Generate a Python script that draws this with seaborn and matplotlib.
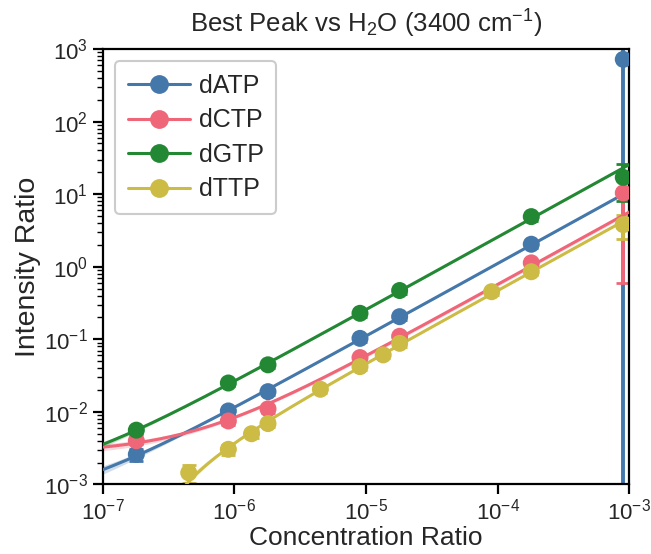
import numpy as np
import pandas as pd
import matplotlib
matplotlib.use("Agg")
import matplotlib.pyplot as plt
import seaborn as sns
from matplotlib.lines import Line2D
from matplotlib.ticker import LogLocator, NullLocator, NullFormatter

# ---------------- data ----------------
series = ["dATP", "dCTP", "dGTP", "dTTP"]
colors = ["#4477AA", "#EE6677", "#228833", "#CCBB44"]

datp_x = [1.8e-7, 9e-7, 1.8e-6, 9e-6, 1.8e-5, 1.8e-4, 9e-4]
datp_y = [2.6e-3, 1.03e-2, 1.9e-2, 0.103, 0.205, 2.04, 719.0]
datp_e = [0.5e-3, 1.0e-3, 2e-3, 0.01, 0.02, 0.2, 1500.0]

dctp_x = [1.8e-7, 9e-7, 1.8e-6, 9e-6, 1.8e-5, 1.8e-4, 9e-4]
dctp_y = [4.0e-3, 7.5e-3, 1.1e-2, 0.056, 0.11, 1.13, 10.4]
dctp_e = [0.4e-3, 0.8e-3, 1.2e-3, 6e-3, 0.012, 0.12, 9.8]

dgtp_x = [1.8e-7, 9e-7, 1.8e-6, 9e-6, 1.8e-5, 1.8e-4, 9e-4]
dgtp_y = [5.6e-3, 2.5e-2, 4.45e-2, 0.228, 0.47, 4.9, 17.0]
dgtp_e = [0.6e-3, 2.5e-3, 4.5e-3, 0.025, 0.05, 0.6, 9.0]

dttp_x = [4.5e-7, 9e-7, 1.35e-6, 1.8e-6, 4.5e-6, 9e-6, 1.35e-5, 1.8e-5, 9e-5, 1.8e-4, 9e-4]
dttp_y = [1.45e-3, 3.05e-3, 5.0e-3, 6.9e-3, 2.05e-2, 4.2e-2, 6.1e-2, 0.088, 0.453, 0.853, 3.8]
dttp_e = [0.4e-3, 0.5e-3, 0.6e-3, 0.8e-3, 2.2e-3, 4.5e-3, 6.5e-3, 9e-3, 0.05, 0.09, 1.4]

xs = [datp_x, dctp_x, dgtp_x, dttp_x]
ys = [datp_y, dctp_y, dgtp_y, dttp_y]
es = [datp_e, dctp_e, dgtp_e, dttp_e]

title = "Best Peak vs H$_2$O (3400 cm$^{-1}$)"
xlabel = "Concentration Ratio"
ylabel = "Intensity Ratio"

# ---------------- style ----------------
sns.set_style("ticks")
plt.rcParams["font.family"] = ["Liberation Sans", "DejaVu Sans"]
plt.rcParams["mathtext.fontset"] = "custom"
plt.rcParams["mathtext.rm"] = "Liberation Sans"
plt.rcParams["mathtext.it"] = "Liberation Sans:italic"
plt.rcParams["mathtext.bf"] = "Liberation Sans:bold"
plt.rcParams["mathtext.default"] = "regular"

fig = plt.figure(figsize=(6.51, 5.54), dpi=100)
ax = fig.add_axes([0.1578, 0.1255, 0.9667 - 0.1578, 0.9116 - 0.1255])
ax.set_xscale("log")
ax.set_yscale("log")

xx = np.logspace(-7, -3, 300)
rows = []
pts = []
for name, col, x, y, e in zip(series, colors, xs, ys, es):
    x = np.asarray(x, float)
    y = np.asarray(y, float)
    e = np.asarray(e, float)
    # weighted linear fit (y = a*x + b) in data space, covariance scaled by residuals
    p, cov = np.polyfit(x, y, 1, w=1.0 / e, cov=True)
    fit = np.polyval(p, xx)
    V = np.vstack([xx, np.ones_like(xx)]).T
    se = np.sqrt(np.einsum("ij,jk,ik->i", V, cov, V))
    ax.fill_between(xx, fit - se, fit + se, color=col, alpha=0.25, lw=0, zorder=1)
    for a, b in zip(xx, fit):
        rows.append({"series": name, "x": a, "y": b})
    ax.errorbar(x, y, yerr=e, fmt="none", ecolor=col, elinewidth=2.8, capsize=5, capthick=2, zorder=2)
    for a, b in zip(x, y):
        pts.append({"series": name, "x": a, "y": b})

fit_df = pd.DataFrame(rows)
pts_df = pd.DataFrame(pts)
pal = dict(zip(series, colors))
sns.lineplot(data=fit_df, x="x", y="y", hue="series", palette=pal, lw=2.2,
             legend=False, ax=ax, zorder=3, sort=False, estimator=None)
sns.scatterplot(data=pts_df, x="x", y="y", hue="series", palette=pal, s=150,
                edgecolor="none", legend=False, ax=ax, zorder=4)

ax.set_xlim(1e-7, 1e-3)
ax.set_ylim(1e-3, 1e3)
ax.xaxis.set_major_locator(LogLocator(base=10, numticks=10))
ax.xaxis.set_minor_locator(NullLocator())
ax.yaxis.set_major_locator(LogLocator(base=10, numticks=10))
ax.yaxis.set_minor_locator(LogLocator(base=10, subs=np.arange(2, 10), numticks=20))
ax.yaxis.set_minor_formatter(NullFormatter())

for sp in ax.spines.values():
    sp.set_linewidth(1.6)
    sp.set_color("black")
ax.tick_params(axis="both", which="major", length=7, width=1.6, labelsize=16, color="black")
ax.tick_params(axis="y", which="minor", length=4, width=1.0, color="black")

ax.set_title(title, fontsize=18.5, pad=12)
ax.set_xlabel(xlabel, fontsize=19, labelpad=1)
ax.set_ylabel(ylabel, fontsize=20.5, labelpad=2)

handles = [Line2D([0], [0], color=c, lw=2.2, marker="o", markersize=12.5) for c in colors]
leg = ax.legend(handles, series, loc="upper left", fontsize=18, frameon=True,
                fancybox=True, edgecolor="#cccccc", framealpha=1, labelspacing=0.42,
                handlelength=2.5, handletextpad=0.35, borderpad=0.5)
leg.get_frame().set_linewidth(1.5)

fig.savefig("out.png", dpi=100)
